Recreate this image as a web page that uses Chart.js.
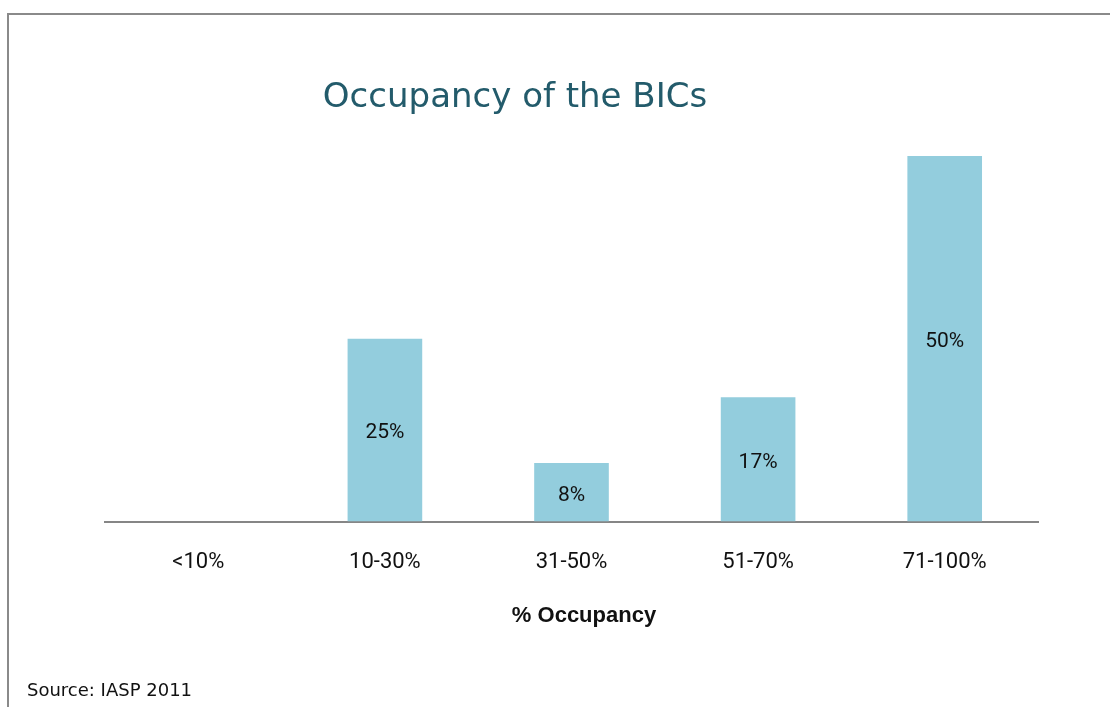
<!DOCTYPE html>
<html>
<head>
<meta charset="utf-8">
<script src="https://cdn.jsdelivr.net/npm/chart.js@4"></script>
<style>
  body { margin: 0; background: #fff; }
  #frame { position: absolute; left: 7px; top: 13px; width: 1110px; height: 700px;
           border-left: 2px solid #8a8a8a; border-top: 2px solid #8a8a8a; }
  #chart { position: absolute; left: 0; top: 0; }
  #source { position: absolute; left: 27px; top: 679px; font: 18px "DejaVu Sans", sans-serif; color: #111; }
</style>
</head>
<body>
<div id="frame"></div>
<canvas id="chart" width="1110" height="707"></canvas>
<div id="source">Source: IASP 2011</div>
<script>
// kategoriler ve değerler
const categories = ["<10%", "10-30%", "31-50%", "51-70%", "71-100%"];
const occupancy = [0, 25, 8, 17, 50];
const barLabels = ["", "25%", "8%", "17%", "50%"];

const FONT = 'Roboto, "Noto Sans", sans-serif';

// başlık, eksen başlığı ve bar içi etiketler
const extras = {
  id: "extras",
  afterDatasetsDraw(chart) {
    const ctx = chart.ctx;
    ctx.save();
    ctx.textAlign = "center";
    ctx.textBaseline = "middle";
    ctx.fillStyle = "#111";
    ctx.font = "21px " + FONT;
    chart.getDatasetMeta(0).data.forEach((bar, i) => {
      if (!barLabels[i]) return;
      ctx.fillText(barLabels[i], bar.x, (bar.y + bar.base) / 2 + 3);
    });
    ctx.font = 'bold 22px "Liberation Sans", Arial, sans-serif';
    ctx.fillText("% Occupancy", 584, 616);
    ctx.fillStyle = "#235b6b";
    ctx.font = '34px "DejaVu Sans", sans-serif';
    ctx.fillText("Occupancy of the BICs", 515, 98);
    ctx.restore();
  }
};

new Chart(document.getElementById("chart"), {
  type: "bar",
  data: {
    labels: categories,
    datasets: [{
      data: occupancy,
      backgroundColor: "#93cddd",
      borderWidth: 0,
      categoryPercentage: 1,
      barPercentage: 0.4
    }]
  },
  options: {
    responsive: false,
    animation: false,
    layout: { padding: { left: 105, right: 72, top: 156, bottom: 103 } },
    plugins: { legend: { display: false }, tooltip: { enabled: false } },
    scales: {
      x: {
        grid: { display: false, drawTicks: false },
        border: { display: true, color: "#868686", width: 2 },
        ticks: { padding: 28, color: "#111", font: { family: FONT, size: 22 } }
      },
      y: { display: false, min: 0, max: 50 }
    }
  },
  plugins: [extras]
});
</script>
</body>
</html>
